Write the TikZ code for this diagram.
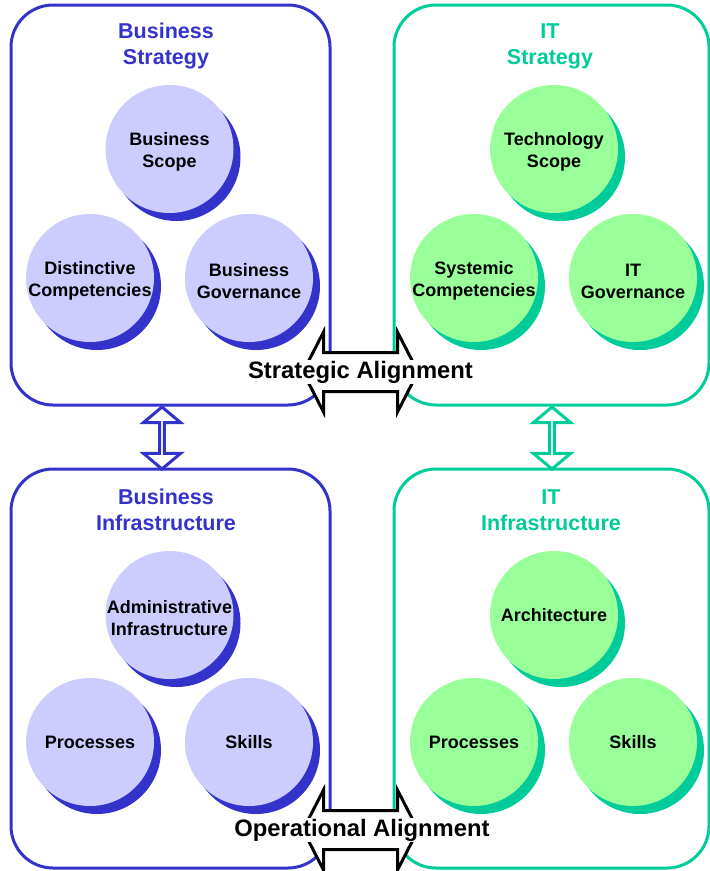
\documentclass[tikz,border=0pt]{standalone}
\usepackage{fontspec}
\setmainfont{Liberation Sans}
\usepackage{tikz}
\usetikzlibrary{shapes.arrows}
\usetikzlibrary{shadows}

\definecolor{bizline}{HTML}{3333CC}
\definecolor{bizfill}{HTML}{CCCCFF}
\definecolor{itline}{HTML}{00CC99}
\definecolor{itfill}{HTML}{99FF99}

\begin{document}
\begin{tikzpicture}[x=1pt, y=-1pt,
    panel/.style={rectangle, draw, line width=3pt, rounded corners=42pt, inner sep=0},
    heading/.style={font=\bfseries\fontsize{21.5}{26}\selectfont, align=center},
    bubble/.style={circle, inner sep=0, minimum size=128pt},
    bubtext/.style={font=\bfseries\fontsize{18}{22}\selectfont, align=center, inner sep=0},
    bubpair/.style={bubtext, yshift=-3pt},
    biz/.style={bubble, fill=bizfill, general shadow={fill=bizline, shadow xshift=7pt, shadow yshift=-8pt}},
    it/.style={bubble, fill=itfill, general shadow={fill=itline, shadow xshift=7pt, shadow yshift=-8pt}},
    linkv/.style={double arrow, draw, fill=white, line width=3pt, shape border rotate=90, inner sep=0,
        minimum height=62pt, minimum width=37pt, double arrow head extend=10pt, double arrow tip angle=100},
    linkh/.style={draw=black, fill=white, line width=3pt, line join=miter},
    alignlabel/.style={font=\bfseries\fontsize{23.8}{28}\selectfont, fill=white, inner sep=1pt}]
        \useasboundingbox (0,0) rectangle (710,871);

        \node (bsbox) [panel, draw=bizline, minimum width=319pt, minimum height=400pt] at (170.5, 205) {};
        \node (isbox) [panel, draw=itline, minimum width=315pt, minimum height=400pt] at (551.5, 205) {};
        \node (bibox) [panel, draw=bizline, minimum width=319pt, minimum height=399pt] at (170.5, 668.5) {};
        \node (iibox) [panel, draw=itline, minimum width=315pt, minimum height=399pt] at (551.5, 668.5) {};

        \node (bst) [heading, text=bizline] at (166, 46) {Business\\Strategy};
        \node (ist) [heading, text=itline] at (550, 46) {IT\\Strategy};
        \node (bit) [heading, text=bizline] at (166, 510) {Business\\Infrastructure};
        \node (iit) [heading, text=itline] at (551, 510) {IT\\Infrastructure};

        \node (bscope) [biz, label={[bubpair]center:Business\\Scope}] at (169.5, 149) {};
        \node (bcomp) [biz, label={[bubpair]center:Distinctive\\Competencies}] at (90, 278) {};
        \node (bgov) [biz, label={[bubpair]center:Business\\Governance}] at (249, 278) {};

        \node (iscope) [it, label={[bubpair]center:Technology\\Scope}] at (554, 149) {};
        \node (icomp) [it, label={[bubpair]center:Systemic\\Competencies}] at (474, 278) {};
        \node (igov) [it, label={[bubpair]center:IT\\Governance}] at (633, 278) {};

        \node (badmin) [biz, label={[bubpair]center:Administrative\\Infrastructure}] at (169.5, 615) {};
        \node (bproc) [biz, label={[bubtext]center:Processes}] at (90, 742) {};
        \node (bskill) [biz, label={[bubtext]center:Skills}] at (249, 742) {};

        \node (iarch) [it, label={[bubtext]center:Architecture}] at (554, 615) {};
        \node (iproc) [it, label={[bubtext]center:Processes}] at (474, 742) {};
        \node (iskill) [it, label={[bubtext]center:Skills}] at (633, 742) {};

        \node (blink) [linkv, draw=bizline] at (162, 438) {};
        \node (ilink) [linkv, draw=itline] at (552, 438) {};

        \coordinate (slink) at (360.5, 372);
        \coordinate (olink) at (360.5, 830);
        \foreach \c in {slink, olink}
          \draw[linkh, shift={(\c)}] (-57.5,0) -- (-37,-40) -- (-37,-19.5) -- (37,-19.5) -- (37,-40)
            -- (57.5,0) -- (37,40) -- (37,19.5) -- (-37,19.5) -- (-37,40) -- cycle;
        \node (stxt) [alignlabel] at (slink) {Strategic Alignment};
        \node (otxt) [alignlabel] at ([xshift=1.5pt]olink) {Operational Alignment};
      \end{tikzpicture}
\end{document}
